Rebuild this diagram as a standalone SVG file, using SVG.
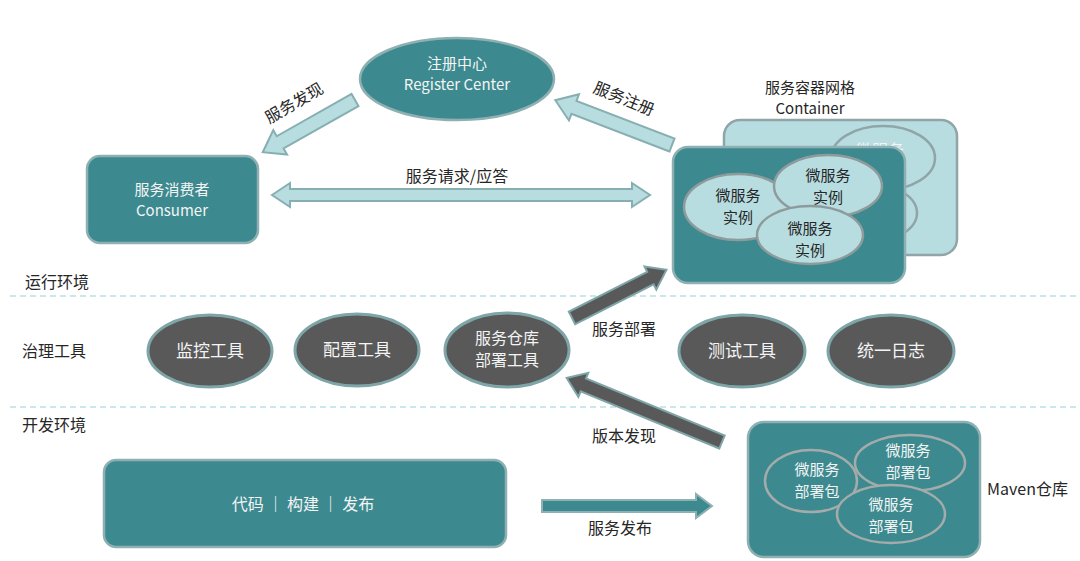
<svg xmlns="http://www.w3.org/2000/svg" width="1080" height="561" viewBox="0 0 1080 561">
<style>
text{font-family:"Noto Sans CJK SC","Noto Sans",sans-serif;font-size:16px;text-anchor:middle}
.lbl{fill:#262626}
.wt{fill:#f4f4f4}
.ct{font-size:16px;fill:#262626}
.two{font-size:15px}
.teal{fill:#3c8a8f;stroke:#8fb0b2;stroke-width:2.5}
.lb{fill:#b8dde1;stroke:#8fa5a7;stroke-width:2.5}
.tool{fill:#595959;stroke:#7ea5a8;stroke-width:3}
.pkg{fill:#3c8a8f;stroke:#a3abab;stroke-width:2.5}
.inst{fill:#b8dde1;stroke:#8e9b9c;stroke-width:2.5}
.dash{stroke:#b9dfe3;stroke-width:1.5;stroke-dasharray:6 4}
.arLb{fill:#b8dde1;stroke:#87aeb1;stroke-width:2}
.arDk{fill:#595959;stroke:#7ea5a8;stroke-width:2}
.arTl{fill:#3c8a8f;stroke:#8fb0b2;stroke-width:2}
</style>
<rect width="1080" height="561" fill="#ffffff"/>
<g id="layers">
<line class="dash" x1="10" y1="296" x2="1080" y2="296"/>
<line class="dash" x1="10" y1="407" x2="1080" y2="407"/>
<text class="lbl" x="25" y="288" style="text-anchor:start">运行环境</text>
<text class="lbl" x="22" y="357" style="text-anchor:start">治理工具</text>
<text class="lbl" x="22" y="431" style="text-anchor:start">开发环境</text>
</g>
<g id="register">
<ellipse class="teal" cx="457" cy="79" rx="97" ry="41"/>
<text class="wt two" x="457" y="69">注册中心</text>
<text class="wt two" x="457" y="90">Register Center</text>
</g>
<g id="consumer">
<rect class="teal" x="87" y="156" width="171" height="87" rx="13"/>
<text class="wt two" x="172" y="195">服务消费者</text>
<text class="wt two" x="172" y="216">Consumer</text>
</g>
<g id="container">
<text class="ct two" x="810" y="93">服务容器网格</text>
<text class="ct two" x="810" y="114">Container</text>
<rect class="lb" x="724" y="120" width="233" height="135" rx="16"/>
<ellipse class="lb" cx="883" cy="158" rx="52" ry="32"/>
<text class="wt" x="880" y="156">微服务</text>
<ellipse class="lb" cx="866" cy="213" rx="51" ry="30"/>
<rect class="teal" x="673" y="147" width="232" height="136" rx="15"/>
<ellipse class="inst" cx="738" cy="207" rx="54" ry="33"/>
<text class="lbl two" x="738" y="201">微服务</text>
<text class="lbl two" x="738" y="223">实例</text>
<ellipse class="inst" cx="828" cy="186" rx="54" ry="31"/>
<text class="lbl two" x="828" y="181">微服务</text>
<text class="lbl two" x="828" y="203">实例</text>
<ellipse class="inst" cx="810" cy="235" rx="53" ry="29"/>
<text class="lbl two" x="810" y="234">微服务</text>
<text class="lbl two" x="810" y="256">实例</text>
</g>
<g id="tool-monitor">
<ellipse class="tool" cx="210" cy="351" rx="62" ry="36"/>
<text class="wt" x="210" y="357" style="font-size:17px">监控工具</text>
</g>
<g id="tool-config">
<ellipse class="tool" cx="357" cy="350" rx="62" ry="36"/>
<text class="wt" x="357" y="356" style="font-size:17px">配置工具</text>
</g>
<g id="tool-deploy">
<ellipse class="tool" cx="507" cy="350" rx="62" ry="37"/>
<text class="wt" x="507" y="344">服务仓库</text>
<text class="wt" x="507" y="366">部署工具</text>
</g>
<g id="tool-test">
<ellipse class="tool" cx="742" cy="351" rx="63" ry="36"/>
<text class="wt" x="742" y="357" style="font-size:17px">测试工具</text>
</g>
<g id="tool-log">
<ellipse class="tool" cx="891" cy="351" rx="63" ry="36"/>
<text class="wt" x="891" y="357" style="font-size:17px">统一日志</text>
</g>
<g id="devbox">
<rect class="teal" x="104" y="460" width="402" height="87" rx="12"/>
<text class="wt" x="303" y="510">代码 ｜ 构建 ｜ 发布</text>
</g>
<g id="maven">
<rect class="teal" x="748" y="422" width="232" height="135" rx="16"/>
<ellipse class="pkg" cx="811" cy="481" rx="46" ry="31"/>
<text class="wt two" x="817" y="475">微服务</text>
<text class="wt two" x="817" y="497">部署包</text>
<ellipse class="pkg" cx="910" cy="463" rx="55" ry="28"/>
<text class="wt two" x="908" y="456">微服务</text>
<text class="wt two" x="908" y="478">部署包</text>
<ellipse class="pkg" cx="891" cy="514" rx="54" ry="29"/>
<text class="wt two" x="891" y="510">微服务</text>
<text class="wt two" x="891" y="532">部署包</text>
<text class="ct" x="987" y="495" style="text-anchor:start">Maven仓库</text>
</g>
<g id="connectors">
<polygon class="arLb" transform="translate(355,100) rotate(150.5)" points="0,-7 86,-7 86,-14 106,0 86,14 86,7 0,7"/>
<text class="lbl" transform="translate(297,108) rotate(-30)">服务发现</text>
<polygon class="arLb" transform="translate(672,145) rotate(201)" points="0,-7 105,-7 105,-14 125,0 105,14 105,7 0,7"/>
<text class="lbl" transform="translate(622,104) rotate(22)">服务注册</text>
<polygon class="arLb" points="272,195 290,183 290,189 632,189 632,183 650,195 632,207 632,201 290,201 290,207"/>
<text class="lbl" x="457" y="182">服务请求/应答</text>
<polygon class="arDk" transform="translate(572,318) rotate(-27)" points="0,-7 88,-7 88,-13 106,0 88,13 88,7 0,7"/>
<text class="lbl" x="624" y="335">服务部署</text>
<polygon class="arDk" transform="translate(722,442) rotate(202.4)" points="0,-7 150,-7 150,-13 168,0 150,13 150,7 0,7"/>
<text class="lbl" x="624" y="442">版本发现</text>
<polygon class="arTl" points="542,500 696,500 696,494 712,506 696,518 696,512 542,512"/>
<text class="lbl" x="620" y="534">服务发布</text>
</g>
</svg>
